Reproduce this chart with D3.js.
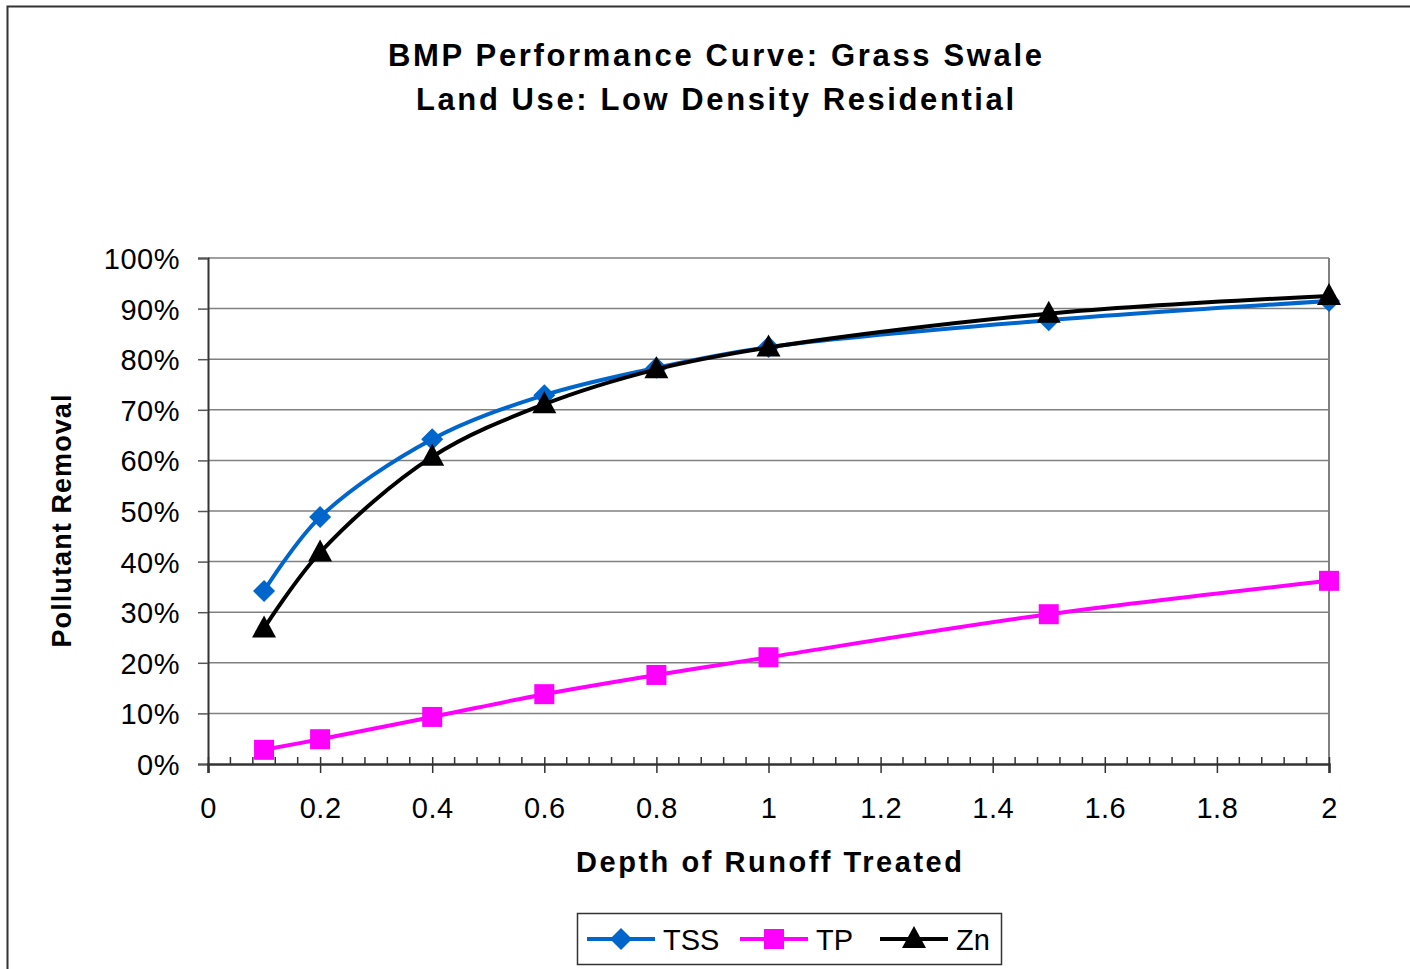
<!DOCTYPE html>
<html><head><meta charset="utf-8">
<script src="https://cdn.jsdelivr.net/npm/d3@7"></script>
<style>body{margin:0;background:#fff}svg{display:block}text{font-family:"Liberation Sans",Arial,sans-serif}</style>
</head><body>
<svg id="c" width="1410" height="969"></svg>
<script>
const depth = [0.1, 0.2, 0.4, 0.6, 0.8, 1.0, 1.5, 2.0];
const tss = [0.342, 0.488, 0.642, 0.729, 0.783, 0.824, 0.877, 0.915];
const tp  = [0.028, 0.049, 0.093, 0.138, 0.176, 0.211, 0.296, 0.362];
const zn  = [0.268, 0.418, 0.607, 0.711, 0.780, 0.823, 0.890, 0.925];
const xTicks = [0, 0.2, 0.4, 0.6, 0.8, 1, 1.2, 1.4, 1.6, 1.8, 2];
const yTicks = [0, 0.1, 0.2, 0.3, 0.4, 0.5, 0.6, 0.7, 0.8, 0.9, 1.0];
const seriesNames = ["TSS", "TP", "Zn"];
const seriesColors = ["#0066CC", "#FF00FF", "#000000"];
const seriesShapes = ["diamond", "square", "triangle"];
const titleLines = ["BMP Performance Curve: Grass Swale", "Land Use: Low Density Residential"];

const series = [tss, tp, zn].map((v, i) => ({
  name: seriesNames[i], color: seriesColors[i], shape: seriesShapes[i],
  pts: depth.map((d, j) => [d, v[j]])
}));

const svg = d3.select("#c");
const L = 208, R = 1329, T = 258, B = 764;
const x = d3.scaleLinear().domain([0, 2]).range([L, R]);
const y = d3.scaleLinear().domain([0, 1]).range([B, T]);

// outer border
svg.append("rect").attr("x", 7.5).attr("y", 6.5).attr("width", 1450).attr("height", 1000)
  .attr("fill", "#fff").attr("stroke", "#333").attr("stroke-width", 2);

// title
svg.selectAll("text.title").data(titleLines).join("text").attr("class", "title")
  .attr("x", 715).attr("y", (d, i) => 66 + i * 44).attr("text-anchor", "middle")
  .attr("font-size", 31).attr("font-weight", "bold")
  .attr("textLength", (d, i) => i === 0 ? 654 : 598).attr("lengthAdjust", "spacing")
  .text(d => d);

// gridlines
svg.append("g").selectAll("line").data(yTicks.filter(t => t > 0)).join("line")
  .attr("x1", L).attr("x2", R).attr("y1", d => y(d)).attr("y2", d => y(d))
  .attr("stroke", "#808080").attr("stroke-width", 1.5);
// right border
svg.append("line").attr("x1", R).attr("x2", R).attr("y1", T).attr("y2", B)
  .attr("stroke", "#808080").attr("stroke-width", 2);

// y axis
const yAxis = d3.axisLeft(y).tickValues(yTicks).tickFormat(d3.format(".0%")).tickSize(10).tickPadding(18);
const gy = svg.append("g").attr("transform", `translate(${L},0)`).call(yAxis);
gy.select(".domain").attr("stroke", "#333").attr("stroke-width", 2);
gy.selectAll(".tick line").attr("stroke", "#555").attr("stroke-width", 1.5);
gy.selectAll(".tick text").attr("font-size", 29).attr("fill", "#000").attr("letter-spacing", 0.5)
  .attr("font-family", "Liberation Sans, Arial, sans-serif").attr("dy", "0.36em");

// x axis minor ticks
const minor = d3.range(0, 2.0001, 0.04).filter(v => Math.abs(v / 0.2 - Math.round(v / 0.2)) > 1e-6);
svg.append("g").selectAll("line").data(minor).join("line")
  .attr("x1", d => x(d)).attr("x2", d => x(d)).attr("y1", B - 7).attr("y2", B)
  .attr("stroke", "#333").attr("stroke-width", 1.5);
// x axis major
const xAxis = d3.axisBottom(x).tickValues(xTicks).tickFormat(d => d3.format("")(+d.toFixed(1))).tickSize(9).tickPadding(24);
const gx = svg.append("g").attr("transform", `translate(0,${B})`).call(xAxis);
gx.select(".domain").attr("stroke", "#333").attr("stroke-width", 2.5);
gx.selectAll(".tick line").attr("stroke", "#333").attr("stroke-width", 1.5).attr("y1", -7);
gx.selectAll(".tick text").attr("font-size", 29).attr("fill", "#000").attr("letter-spacing", 0.5)
  .attr("font-family", "Liberation Sans, Arial, sans-serif");

// axis titles
svg.append("text").attr("x", 769).attr("y", 872).attr("text-anchor", "middle")
  .attr("font-size", 29).attr("font-weight", "bold").attr("textLength", 386).attr("lengthAdjust", "spacing")
  .text("Depth of Runoff Treated");
svg.append("text").attr("transform", "translate(71,521) rotate(-90)").attr("text-anchor", "middle")
  .attr("font-size", 27).attr("font-weight", "bold").attr("textLength", 253).attr("lengthAdjust", "spacing")
  .text("Pollutant Removal");

// markers
function markerPath(shape) {
  if (shape === "diamond") return "M0,-11L11,0L0,11L-11,0Z";
  if (shape === "square") return "M-10,-10H10V10H-10Z";
  return "M0,-13L12,9H-12Z";
}
const line = d3.line().x(d => x(d[0])).y(d => y(d[1])).curve(d3.curveCatmullRom.alpha(0.5));

// draw in order TP, TSS, Zn (Zn on top)
[1, 0, 2].forEach(i => {
  const s = series[i];
  const g = svg.append("g");
  g.append("path").datum(s.pts).attr("d", line).attr("fill", "none")
    .attr("stroke", s.color).attr("stroke-width", 4).attr("stroke-linejoin", "round");
  g.selectAll("path.m").data(s.pts).join("path").attr("class", "m")
    .attr("transform", d => `translate(${x(d[0])},${y(d[1])})`)
    .attr("d", markerPath(s.shape)).attr("fill", s.color);
});

// legend
const lg = svg.append("g");
lg.append("rect").attr("x", 577.5).attr("y", 913.5).attr("width", 424).attr("height", 51)
  .attr("fill", "#fff").attr("stroke", "#333").attr("stroke-width", 1.5);
const legX = [587, 740, 880];
series.forEach((s, i) => {
  const gx0 = legX[i];
  lg.append("line").attr("x1", gx0).attr("x2", gx0 + 68).attr("y1", 939).attr("y2", 939)
    .attr("stroke", s.color).attr("stroke-width", 4);
  lg.append("path").attr("transform", `translate(${gx0 + 34},939)`).attr("d", markerPath(s.shape)).attr("fill", s.color);
  lg.append("text").attr("x", gx0 + 76).attr("y", 950).attr("font-size", 29).attr("fill", "#000").text(s.name);
});
</script>
</body></html>
